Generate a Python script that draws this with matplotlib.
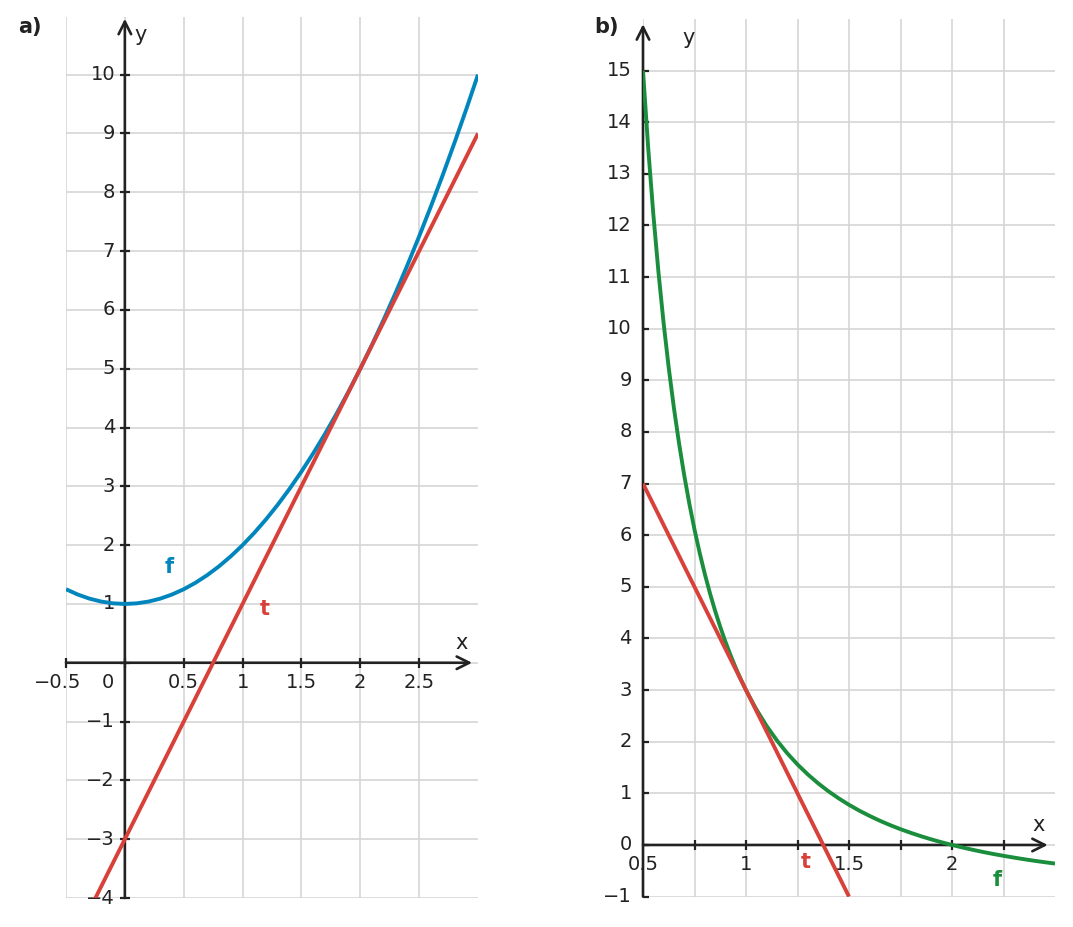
import matplotlib
matplotlib.use("Agg")
import matplotlib.pyplot as plt

# ---------------- data ----------------
# panel a: parabola f and its tangent t
a_f_x = [-0.5, -0.4, -0.3, -0.2, -0.1, 0.0, 0.1, 0.2, 0.3, 0.4, 0.5, 0.6, 0.7, 0.8, 0.9,
         1.0, 1.1, 1.2, 1.3, 1.4, 1.5, 1.6, 1.7, 1.8, 1.9, 2.0, 2.1, 2.2, 2.3, 2.4, 2.5,
         2.6, 2.7, 2.8, 2.9, 3.0]
a_f_y = [1.25, 1.16, 1.09, 1.04, 1.01, 1.0, 1.01, 1.04, 1.09, 1.16, 1.25, 1.36, 1.49, 1.64, 1.81,
         2.0, 2.21, 2.44, 2.69, 2.96, 3.25, 3.56, 3.89, 4.24, 4.61, 5.0, 5.41, 5.84, 6.29, 6.76, 7.25,
         7.76, 8.29, 8.84, 9.41, 10.0]
a_t_x = [-0.5, 3.0]
a_t_y = [-5.0, 9.0]

a_xticks = [-0.5, 0.5, 1, 1.5, 2, 2.5]
a_xtick_labels = ["\u22120.5", "0.5", "1", "1.5", "2", "2.5"]
a_yticks = [-4, -3, -2, -1, 1, 2, 3, 4, 5, 6, 7, 8, 9, 10]
a_ytick_labels = ["\u22124", "\u22123", "\u22122", "\u22121", "1", "2", "3", "4", "5", "6", "7", "8", "9", "10"]
a_grid_x = [-0.5, 0, 0.5, 1, 1.5, 2, 2.5]
a_grid_y = [-4, -3, -2, -1, 0, 1, 2, 3, 4, 5, 6, 7, 8, 9, 10]

# panel b: decreasing curve f and its tangent t
b_f_x = [0.5, 0.525, 0.55, 0.575, 0.6, 0.625, 0.65, 0.675, 0.7, 0.725, 0.75, 0.775, 0.8, 0.825,
         0.85, 0.875, 0.9, 0.925, 0.95, 0.975, 1.0, 1.05, 1.1, 1.15, 1.2, 1.25, 1.3, 1.35, 1.4,
         1.45, 1.5, 1.55, 1.6, 1.65, 1.7, 1.75, 1.8, 1.85, 1.9, 1.95, 2.0, 2.05, 2.1, 2.15, 2.2,
         2.25, 2.3, 2.35, 2.4, 2.45, 2.5]
b_f_y = [15.0, 13.512, 12.223, 11.098, 10.111, 9.24, 8.467, 7.779, 7.163, 6.610, 6.111, 5.660, 5.25, 4.877,
         4.536, 4.224, 3.938, 3.675, 3.432, 3.208, 3.0, 2.628, 2.306, 2.025, 1.778, 1.560, 1.367, 1.195, 1.041,
         0.903, 0.778, 0.665, 0.563, 0.469, 0.384, 0.306, 0.235, 0.169, 0.108, 0.052, 0.0, -0.048, -0.093,
         -0.135, -0.174, -0.210, -0.244, -0.276, -0.306, -0.334, -0.36]
b_t_x = [0.5, 1.5]
b_t_y = [7.0, -1.0]

b_xticks = [0.5, 1, 1.5, 2]
b_xtick_labels = ["0.5", "1", "1.5", "2"]
b_xminor = [0.75, 1.25, 1.75, 2.25]
b_yticks = list(range(-1, 16))
b_ytick_labels = ["\u22121"] + [str(v) for v in range(0, 16)]
b_grid_x = [0.5, 0.75, 1, 1.25, 1.5, 1.75, 2, 2.25]
b_grid_y = list(range(-1, 16))

# ---------------- style ----------------
BLUE = "#0086bc"
RED = "#d8403a"
GREEN = "#1b8e3e"
AX = "#222222"
GRID = "#d5d5d5"
FS = 14

plt.rcParams['font.family'] = ['DejaVu Sans']
fig = plt.figure(figsize=(10.73, 9.27), dpi=100)


def base(ax, xlim, ylim, gx, gy):
    ax.set_xlim(*xlim)
    ax.set_ylim(*ylim)
    for s in ax.spines.values():
        s.set_visible(False)
    ax.set_xticks(gx)
    ax.set_yticks(gy)
    ax.tick_params(length=0, labelbottom=False, labelleft=False)
    ax.grid(True, color=GRID, lw=1.2)
    ax.set_axisbelow(True)


def arrow(ax, start, end):
    ax.annotate("", xy=end, xytext=start, xycoords="data",
                arrowprops=dict(arrowstyle="->,head_length=0.6,head_width=0.3",
                                color=AX, lw=1.9, shrinkA=0, shrinkB=0, mutation_scale=15),
                annotation_clip=False, zorder=4)


# ---------------- panel a ----------------
axa = fig.add_axes([66 / 1073, 1 - 898 / 927, 412 / 1073, 881 / 927])
base(axa, (-0.5, 3.0), (-4, 10.98), a_grid_x, a_grid_y)
arrow(axa, (-0.5, 0), (2.95, 0))
arrow(axa, (0, -4), (0, 10.95))
axa.plot(a_grid_x, [0] * len(a_grid_x), ls="none", marker="|", ms=7, mew=1.6, color=AX, zorder=4, clip_on=False)
axa.plot([0] * len(a_grid_y), a_grid_y, ls="none", marker="_", ms=7, mew=1.6, color=AX, zorder=4, clip_on=False)
axa.plot(a_f_x, a_f_y, color=BLUE, lw=2.8, zorder=5, solid_capstyle="butt", solid_joinstyle="round")
axa.plot(a_t_x, a_t_y, color=RED, lw=2.8, zorder=5, solid_capstyle="butt")

for v, lab in zip(a_xticks, a_xtick_labels):
    dx = -6 if v < 0 else 0
    axa.annotate(lab, (v, 0), xytext=(dx, -14.5), textcoords="offset points",
                 ha="center", va="center", fontsize=FS, color=AX, annotation_clip=False)
for v, lab in zip(a_yticks, a_ytick_labels):
    axa.annotate(lab, (0, v), xytext=(-7, 0), textcoords="offset points",
                 ha="right", va="center", fontsize=FS, color=AX, annotation_clip=False)
axa.annotate("0", (0, 0), xytext=(-12, -14.5), textcoords="offset points",
             ha="center", va="center", fontsize=FS, color=AX)
axa.text(2.86, 0.34, "x", fontsize=FS + 1, color=AX, ha="center", va="center")
axa.text(0.13, 10.68, "y", fontsize=FS + 1, color=AX, ha="center", va="center")
axa.text(0.38, 1.63, "f", fontsize=FS + 1, color=BLUE, fontweight="bold", ha="center", va="center")
axa.text(1.19, 0.92, "t", fontsize=FS + 1, color=RED, fontweight="bold", ha="center", va="center")
fig.text(30 / 1073, 1 - 27 / 927, "a)", fontsize=FS + 1, fontweight="bold", color=AX, ha="center", va="center")

# ---------------- panel b ----------------
axb = fig.add_axes([643 / 1073, 1 - 896.6 / 927, 412 / 1073, 877.6 / 927])
base(axb, (0.5, 2.5), (-1, 16.0), b_grid_x, b_grid_y)
arrow(axb, (0.5, 0), (2.465, 0))
arrow(axb, (0.5, -1), (0.5, 15.9))
axb.plot(b_xticks[1:] + b_xminor, [0] * (len(b_xticks) - 1 + len(b_xminor)), ls="none", marker="|",
         ms=7, mew=1.6, color=AX, zorder=4, clip_on=False)
axb.plot([0.5] * len(b_yticks), b_yticks, ls="none", marker=1, ms=4, mew=1.6, color=AX, zorder=4, clip_on=False)
axb.plot(b_f_x, b_f_y, color=GREEN, lw=2.8, zorder=5, solid_capstyle="butt", solid_joinstyle="round")
axb.plot(b_t_x, b_t_y, color=RED, lw=2.8, zorder=5, solid_capstyle="butt")

for v, lab in zip(b_xticks, b_xtick_labels):
    axb.annotate(lab, (v, 0), xytext=(0, -14), textcoords="offset points",
                 ha="center", va="center", fontsize=FS, color=AX, annotation_clip=False, zorder=3)
for v, lab in zip(b_yticks, b_ytick_labels):
    axb.annotate(lab, (0.5, v), xytext=(-8, 0), textcoords="offset points",
                 ha="right", va="center", fontsize=FS, color=AX, annotation_clip=False)
axb.text(2.42, 0.39, "x", fontsize=FS + 1, color=AX, ha="center", va="center")
axb.text(0.72, 15.64, "y", fontsize=FS + 1, color=AX, ha="center", va="center")
axb.text(1.29, -0.33, "t", fontsize=FS + 1, color=RED, fontweight="bold", ha="center", va="center")
axb.text(2.22, -0.68, "f", fontsize=FS + 1, color=GREEN, fontweight="bold", ha="center", va="center")
fig.text(606 / 1073, 1 - 27 / 927, "b)", fontsize=FS + 1, fontweight="bold", color=AX, ha="center", va="center")

fig.savefig("out.png", dpi=100, facecolor="white")
